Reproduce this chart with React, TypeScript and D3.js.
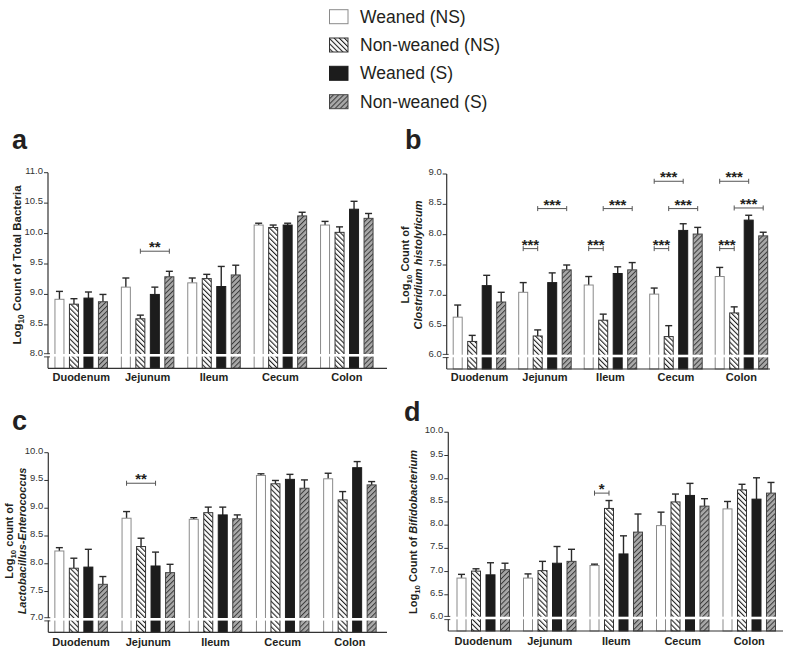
import React from "react";
import * as d3 from "d3";

// ---------- data ----------
const categories = ["Duodenum", "Jejunum", "Ileum", "Cecum", "Colon"];
const seriesNames = ["Weaned (NS)", "Non-weaned (NS)", "Weaned (S)", "Non-weaned (S)"];

// rows = series, columns = categories
const totalMeans = [
  [8.92, 9.12, 9.19, 10.14, 10.14],
  [8.84, 8.6, 9.26, 10.1, 10.02],
  [8.94, 9.0, 9.13, 10.14, 10.4],
  [8.88, 9.29, 9.32, 10.29, 10.25],
];
const totalSem = [
  [0.13, 0.15, 0.08, 0.03, 0.06],
  [0.09, 0.06, 0.07, 0.04, 0.09],
  [0.1, 0.12, 0.33, 0.03, 0.13],
  [0.12, 0.09, 0.16, 0.06, 0.08],
];

const clostMeans = [
  [6.64, 7.05, 7.17, 7.02, 7.31],
  [6.24, 6.33, 6.59, 6.32, 6.71],
  [7.16, 7.21, 7.36, 8.07, 8.24],
  [6.89, 7.42, 7.42, 8.01, 7.98],
];
const clostSem = [
  [0.2, 0.16, 0.14, 0.1, 0.15],
  [0.1, 0.1, 0.1, 0.18, 0.1],
  [0.17, 0.16, 0.11, 0.11, 0.08],
  [0.16, 0.08, 0.12, 0.11, 0.06],
];

const lactoMeans = [
  [8.23, 8.82, 8.8, 9.59, 9.53],
  [7.92, 8.31, 8.92, 9.44, 9.15],
  [7.94, 7.96, 8.88, 9.52, 9.73],
  [7.63, 7.84, 8.81, 9.36, 9.42],
];
const lactoSem = [
  [0.06, 0.12, 0.03, 0.03, 0.1],
  [0.18, 0.15, 0.1, 0.06, 0.15],
  [0.32, 0.25, 0.14, 0.09, 0.11],
  [0.14, 0.15, 0.07, 0.15, 0.06],
];

const bifidoMeans = [
  [6.86, 6.86, 7.13, 7.99, 8.35],
  [7.01, 7.02, 8.36, 8.5, 8.76],
  [6.93, 7.18, 7.38, 8.64, 8.56],
  [7.04, 7.22, 7.85, 8.41, 8.69],
];
const bifidoSem = [
  [0.08, 0.09, 0.03, 0.29, 0.16],
  [0.05, 0.2, 0.17, 0.17, 0.12],
  [0.26, 0.36, 0.39, 0.26, 0.46],
  [0.14, 0.26, 0.39, 0.16, 0.23],
];

const totalTicks = [8.0, 8.5, 9.0, 9.5, 10.0, 10.5, 11.0];
const clostTicks = [6.0, 6.5, 7.0, 7.5, 8.0, 8.5, 9.0];
const lactoTicks = [7.0, 7.5, 8.0, 8.5, 9.0, 9.5, 10.0];
const bifidoTicks = [6.0, 6.5, 7.0, 7.5, 8.0, 8.5, 9.0, 9.5, 10.0];

// significance: [category, fromSeries, toSeries, level, label]
const totalSig: [string, number, number, number, string][] = [["Jejunum", 1, 3, 9.71, "**"]];
const clostSig: [string, number, number, number, string][] = [
  ["Jejunum", 0, 1, 7.77, "***"],
  ["Jejunum", 1, 3, 8.43, "***"],
  ["Ileum", 0, 1, 7.77, "***"],
  ["Ileum", 1, 3, 8.43, "***"],
  ["Cecum", 0, 1, 7.77, "***"],
  ["Cecum", 1, 3, 8.43, "***"],
  ["Cecum", 0, 2, 8.88, "***"],
  ["Colon", 0, 1, 7.77, "***"],
  ["Colon", 1, 3, 8.44, "***"],
  ["Colon", 0, 2, 8.88, "***"],
];
const lactoSig: [string, number, number, number, string][] = [["Jejunum", 0, 2, 9.45, "**"]];
const bifidoSig: [string, number, number, number, string][] = [["Ileum", 0, 1, 8.69, "*"]];

// ---------- styling ----------
const FONT = "'Liberation Sans', Arial, Helvetica, sans-serif";
const TXT = "#231f20";
const fills = ["#ffffff", "url(#hatchNS)", "#1c1c1c", "url(#hatchS)"];
const strokes = ["#8a8a8a", "#333", "#1c1c1c", "#444"];

type Panel = {
  letter: string;
  letterX: number;
  letterY: number;
  axisX: number;
  plotX0: number;
  step: number;
  axisEnd: number;
  yTop: number;
  yBot: number;
  ticks: number[];
  means: number[][];
  sem: number[][];
  sig: [string, number, number, number, string][];
  catY: number;
  label: React.ReactNode;
};

const sub = (s: string) => (
  <tspan fontSize="0.72em" dy="3">
    {s}
  </tspan>
);

function PanelChart({ p }: { p: Panel }) {
  const minV = p.ticks[0];
  const maxV = p.ticks[p.ticks.length - 1];
  const y = d3.scaleLinear().domain([minV, maxV]).range([p.yBot, p.yTop]);
  const baseY = p.yBot + 13;
  const x = d3.scaleBand().domain(categories).range([p.plotX0, p.plotX0 + p.step * 5]).padding(0);
  const inner = d3
    .scaleBand()
    .domain(seriesNames)
    .range([-26.75, 26.75])
    .paddingInner(0.31)
    .paddingOuter(0);
  const cx = (c: string) => (x(c) as number) + x.bandwidth() / 2;
  const bw = inner.bandwidth();
  const barX = (c: string, si: number) => cx(c) + (inner(seriesNames[si]) as number);
  const barMid = (c: string, si: number) => barX(c, si) + bw / 2;
  const breakY = y(minV);

  return (
    <g>
      <text x={p.letterX} y={p.letterY} fontSize={27} fontWeight="bold" fill={TXT} fontFamily={FONT}>
        {p.letter}
      </text>
      {/* bars */}
      {seriesNames.map((s, si) =>
        categories.map((c, ci) => {
          const v = p.means[si][ci];
          const e = p.sem[si][ci];
          const xb = barX(c, si);
          const top = y(v);
          const et = y(v + e);
          return (
            <g key={s + c}>
              <line x1={xb + bw / 2} x2={xb + bw / 2} y1={top} y2={et} stroke="#2a2a2a" strokeWidth={1.4} />
              <line x1={xb + bw / 2 - 3.5} x2={xb + bw / 2 + 3.5} y1={et} y2={et} stroke="#2a2a2a" strokeWidth={1.4} />
              <rect
                x={xb + 0.5}
                y={top}
                width={bw - 1}
                height={baseY - top}
                fill={fills[si]}
                stroke={strokes[si]}
                strokeWidth={1}
              />
            </g>
          );
        })
      )}
      {/* axis break band */}
      <rect x={p.axisX - 5} y={breakY - 1.3} width={p.axisEnd - p.axisX + 5} height={2.6} fill="#fff" />
      {/* y axis */}
      <line x1={p.axisX} x2={p.axisX} y1={p.yTop} y2={baseY} stroke="#333" strokeWidth={1.2} />
      <rect x={p.axisX - 2} y={breakY - 1.2} width={4} height={2.4} fill="#fff" />
      <line x1={p.axisX - 4} x2={p.axisX + 2} y1={breakY - 1.6} y2={breakY - 1.6} stroke="#333" strokeWidth={0.9} />
      <line x1={p.axisX - 4} x2={p.axisX + 2} y1={breakY + 1.6} y2={breakY + 1.6} stroke="#333" strokeWidth={0.9} />
      {p.ticks.map((t, i) => (
        <g key={t}>
          {i > 0 && <line x1={p.axisX - 4} x2={p.axisX} y1={y(t)} y2={y(t)} stroke="#333" strokeWidth={1} />}
          <text
            x={p.axisX - 5}
            y={y(t) + 1}
            textAnchor="end"
            fontSize={9.5}
            fill="#333"
            fontFamily={FONT}
          >
            {d3.format(".1f")(t)}
          </text>
        </g>
      ))}
      {/* x axis */}
      <line x1={p.axisX} x2={p.axisEnd} y1={baseY} y2={baseY} stroke="#333" strokeWidth={1.2} />
      {categories.map((c) => (
        <text
          key={c}
          x={cx(c)}
          y={p.catY}
          textAnchor="middle"
          fontSize={11}
          fontWeight="bold"
          fill={TXT}
          fontFamily={FONT}
        >
          {c}
        </text>
      ))}
      {/* significance */}
      {p.sig.map(([c, a, b, lv, lab], i) => {
        const x1 = barMid(c, a);
        const x2 = barMid(c, b);
        const yy = y(lv);
        return (
          <g key={i}>
            <line x1={x1} x2={x2} y1={yy} y2={yy} stroke="#555" strokeWidth={1} />
            <line x1={x1} x2={x1} y1={yy - 2.5} y2={yy + 2.5} stroke="#555" strokeWidth={1} />
            <line x1={x2} x2={x2} y1={yy - 2.5} y2={yy + 2.5} stroke="#555" strokeWidth={1} />
            <text
              x={(x1 + x2) / 2}
              y={yy + 1}
              textAnchor="middle"
              fontSize={15}
              fontWeight="bold"
              fill={TXT}
              fontFamily={FONT}
            >
              {lab}
            </text>
          </g>
        );
      })}
      {p.label}
    </g>
  );
}

const panels: Panel[] = [
  {
    letter: "a",
    letterX: 12,
    letterY: 149,
    axisX: 48,
    plotX0: 48,
    step: 66.4,
    axisEnd: 387,
    yTop: 172.7,
    yBot: 355.3,
    ticks: totalTicks,
    means: totalMeans,
    sem: totalSem,
    sig: totalSig,
    catY: 381,
    label: (
      <text transform="translate(21,265) rotate(-90)" textAnchor="middle" fontSize={11.5} fontWeight="bold" fill={TXT} fontFamily={FONT}>
        Log{sub("10")}
        <tspan dy="-3"> Count of Total Bacteria</tspan>
      </text>
    ),
  },
  {
    letter: "b",
    letterX: 405,
    letterY: 149,
    axisX: 446.7,
    plotX0: 446.7,
    step: 65.5,
    axisEnd: 770,
    yTop: 174,
    yBot: 356,
    ticks: clostTicks,
    means: clostMeans,
    sem: clostSem,
    sig: clostSig,
    catY: 381,
    label: (
      <g transform="translate(0,265)">
        <text transform="translate(409,0) rotate(-90)" textAnchor="middle" fontSize={11} fontWeight="bold" fill={TXT} fontFamily={FONT}>
          Log{sub("10")}
          <tspan dy="-3"> Count of</tspan>
        </text>
        <text transform="translate(422,0) rotate(-90)" textAnchor="middle" fontSize={11} fontWeight="bold" fontStyle="italic" fill={TXT} fontFamily={FONT}>
          Clostridium histolyticum
        </text>
      </g>
    ),
  },
  {
    letter: "c",
    letterX: 12,
    letterY: 430,
    axisX: 48.3,
    plotX0: 47.5,
    step: 67.2,
    axisEnd: 387,
    yTop: 452.7,
    yBot: 619.3,
    ticks: lactoTicks,
    means: lactoMeans,
    sem: lactoSem,
    sig: lactoSig,
    catY: 646,
    label: (
      <g transform="translate(0,541)">
        <text transform="translate(13,0) rotate(-90)" textAnchor="middle" fontSize={11} fontWeight="bold" fill={TXT} fontFamily={FONT}>
          Log{sub("10")}
          <tspan dy="-3"> count of</tspan>
        </text>
        <text transform="translate(26,0) rotate(-90)" textAnchor="middle" fontSize={11} fontWeight="bold" fontStyle="italic" fill={TXT} fontFamily={FONT}>
          Lactobacillus-Enterococcus
        </text>
      </g>
    ),
  },
  {
    letter: "d",
    letterX: 404,
    letterY: 421,
    axisX: 448.3,
    plotX0: 450,
    step: 66.5,
    axisEnd: 783,
    yTop: 432.3,
    yBot: 618,
    ticks: bifidoTicks,
    means: bifidoMeans,
    sem: bifidoSem,
    sig: bifidoSig,
    catY: 645,
    label: (
      <text transform="translate(417,532) rotate(-90)" textAnchor="middle" fontSize={11} fontWeight="bold" fill={TXT} fontFamily={FONT}>
        Log{sub("10")}
        <tspan dy="-3"> Count of </tspan>
        <tspan fontStyle="italic">Bifidobacterium</tspan>
      </text>
    ),
  },
];

export default function App() {
  const legendY = [16.7, 45, 73.3, 101.7];
  return (
    <svg
      width={787}
      height={648}
      style={{ position: "absolute", left: 0, top: 0, background: "#fff" }}
      fontFamily={FONT}
    >
      <defs>
        <pattern id="hatchNS" patternUnits="userSpaceOnUse" width={3.6} height={3.6} patternTransform="rotate(-45)">
          <rect width={3.6} height={3.6} fill="#fff" />
          <line x1={0} x2={0} y1={0} y2={3.6} stroke="#222" strokeWidth={2.2} />
        </pattern>
        <pattern id="hatchS" patternUnits="userSpaceOnUse" width={3.6} height={3.6} patternTransform="rotate(45)">
          <rect width={3.6} height={3.6} fill="#a8a8a8" />
          <line x1={0} x2={0} y1={0} y2={3.6} stroke="#3a3a3a" strokeWidth={2.0} />
        </pattern>
      </defs>
      <rect width={787} height={648} fill="#fff" />
      {seriesNames.map((s, i) => (
        <g key={s}>
          <rect x={329.5} y={legendY[i] - 7} width={18.5} height={14} fill={fills[i]} stroke={strokes[i]} strokeWidth={1} />
          <text x={360} y={legendY[i] + 6} fontSize={17.5} fill={TXT} fontFamily={FONT}>
            {s}
          </text>
        </g>
      ))}
      {panels.map((p) => (
        <PanelChart key={p.letter} p={p} />
      ))}
    </svg>
  );
}
